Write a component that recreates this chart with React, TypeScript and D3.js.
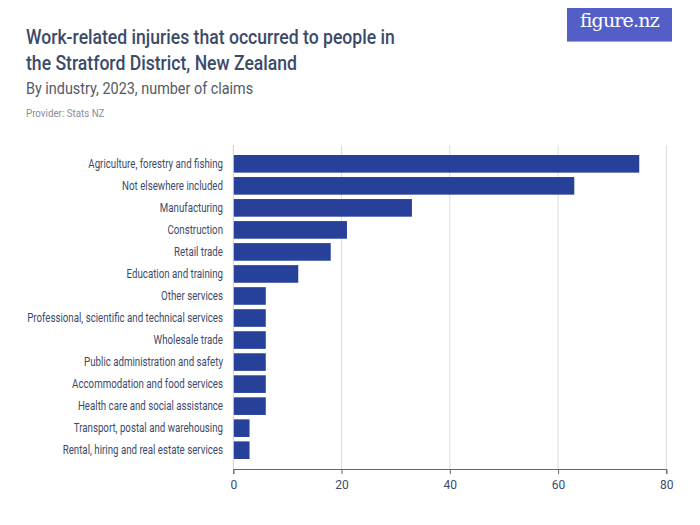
import React, { useEffect, useRef } from 'react'
import * as d3 from 'd3'

const industries = [
  'Agriculture, forestry and fishing',
  'Not elsewhere included',
  'Manufacturing',
  'Construction',
  'Retail trade',
  'Education and training',
  'Other services',
  'Professional, scientific and technical services',
  'Wholesale trade',
  'Public administration and safety',
  'Accommodation and food services',
  'Health care and social assistance',
  'Transport, postal and warehousing',
  'Rental, hiring and real estate services',
]
const claims = [75, 63, 33, 21, 18, 12, 6, 6, 6, 6, 6, 6, 3, 3]
const xTicks = [0, 20, 40, 60, 80]

const FONT = "'Roboto', sans-serif"
const TEXT = '#3c4a6a'

export default function App() {
  const ref = useRef<SVGSVGElement>(null)

  useEffect(() => {
    const svg = d3.select(ref.current)
    svg.selectAll('*').remove()

    const data = industries.map((name, i) => ({ name, value: claims[i] }))

    const x = d3.scaleLinear().domain([0, 80]).range([233.3, 666.3])
    const y = d3.scaleBand()
      .domain(industries)
      .range([152.8, 461.2])
      .paddingInner(0.2)
      .paddingOuter(0.1)

    // header text, squeezed to mimic the condensed face
    const addText = (tx: number, ty: number, sx: number, size: number, fill: string, txt: string, weight = 400) =>
      svg.append('text')
        .attr('transform', `translate(${tx},${ty}) scale(${sx},1)`)
        .attr('font-family', FONT)
        .attr('font-size', size)
        .attr('font-weight', weight)
        .attr('fill', fill)
        .text(txt)

    addText(26, 44, 0.88, 20, TEXT, 'Work-related injuries that occurred to people in', 500)
    addText(26, 70, 0.88, 20, TEXT, 'the Stratford District, New Zealand', 500)
    addText(26, 94, 0.9, 16, '#555a66', 'By industry, 2023, number of claims')
    addText(26, 117, 0.93, 10.5, '#8a8d96', 'Provider: Stats NZ')

    // logo
    svg.append('rect').attr('x', 567).attr('y', 0).attr('width', 105).attr('height', 42)
      .attr('fill', '#535fc6')
    svg.append('rect').attr('x', 567).attr('y', 41).attr('width', 105).attr('height', 1)
      .attr('fill', '#9aa2e0')
    svg.append('text').attr('x', 619.5).attr('y', 27).attr('text-anchor', 'middle')
      .attr('font-family', "'DejaVu Serif', 'Liberation Serif', serif")
      .attr('font-size', 19).attr('fill', '#fff')
      .attr('letter-spacing', -0.8)
      .text('figure.nz')

    // grid
    svg.append('g').selectAll('line')
      .data(xTicks.slice(1))
      .join('line')
      .attr('x1', d => x(d)).attr('x2', d => x(d))
      .attr('y1', 145).attr('y2', 469)
      .attr('stroke', '#dcdcdc').attr('stroke-width', 1)

    // bars
    svg.append('g').selectAll('rect')
      .data(data)
      .join('rect')
      .attr('x', x(0))
      .attr('y', d => y(d.name)!)
      .attr('width', d => x(d.value) - x(0))
      .attr('height', y.bandwidth())
      .attr('fill', '#27419a')

    // category labels
    svg.append('g').selectAll('text')
      .data(data)
      .join('text')
      .attr('transform', d => `translate(223,${y(d.name)! + y.bandwidth() / 2 - 0.5}) scale(0.81,1)`)
      .attr('dy', '0.35em')
      .attr('text-anchor', 'end')
      .attr('font-family', FONT)
      .attr('font-size', 12)
      .attr('fill', TEXT)
      .text(d => d.name)

    // y axis line
    svg.append('line').attr('x1', x(0)).attr('x2', x(0)).attr('y1', 145).attr('y2', 469)
      .attr('stroke', '#cfcfcf')

    // x axis
    const xAxis = svg.append('g').attr('transform', 'translate(0,469)')
      .call(d3.axisBottom(x).tickValues(xTicks).tickSize(5).tickPadding(6))
    xAxis.select('.domain').attr('stroke', '#666')
    xAxis.selectAll('.tick line').attr('stroke', '#666')
    xAxis.selectAll('.tick text')
      .attr('font-family', FONT).attr('font-size', 12).attr('fill', TEXT)
  }, [])

  return <svg ref={ref} width={700} height={525} style={{ display: 'block', margin: '-8px 0 0 -8px' }} />
}
